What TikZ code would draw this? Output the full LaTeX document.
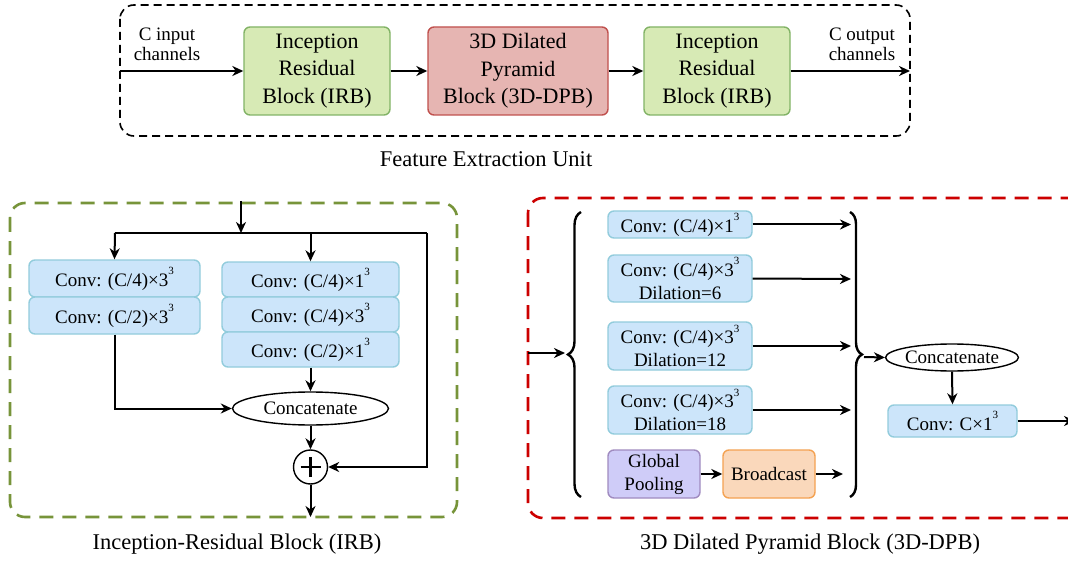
\documentclass[tikz,border=0pt]{standalone}
\usepackage{fontspec}
\setmainfont{Liberation Serif}
\newfontfamily\tms{Liberation Serif}
\usetikzlibrary{arrows.meta,decorations.pathreplacing,shapes.geometric}
\definecolor{gF}{HTML}{D7EAB5}
\definecolor{gD}{HTML}{82B366}
\definecolor{rF}{HTML}{E6B5B2}
\definecolor{rD}{HTML}{C0504D}
\definecolor{bF}{HTML}{CCE5FA}
\definecolor{bD}{HTML}{92CCDC}
\definecolor{pF}{HTML}{CFCCF8}
\definecolor{pD}{HTML}{A08BC0}
\definecolor{oF}{HTML}{FAD8BB}
\definecolor{oD}{HTML}{F4A252}
\definecolor{irbD}{HTML}{77943A}
\definecolor{dpbD}{HTML}{CC0000}
\newcommand{\supthree}{\raisebox{0.62em}{\fontsize{11}{11}\selectfont 3}}
\tikzset{
  lnk/.style={line width=2pt, draw=black},
  arr/.style={lnk, -{Stealth[length=11pt,width=10pt,inset=3.5pt]}},
  topbox/.style={rectangle, rounded corners=6pt, line width=1.4pt, inner sep=0pt,
     align=center, font=\tms\fontsize{22}{27.5}\selectfont, minimum height=88pt},
  convbox/.style={rectangle, rounded corners=6pt, line width=1.4pt, inner sep=0pt,
     align=center, fill=bF, draw=bD, font=\tms\fontsize{19}{23}\selectfont},
  ell/.style={ellipse, draw=black, line width=1.4pt, inner sep=0pt, fill=white,
     font=\tms\fontsize{19}{22}\selectfont},
  captext/.style={font=\tms\fontsize{22.5}{26}\selectfont},
  lbl/.style={align=center, font=\tms\fontsize{19}{20}\selectfont},
  bracestyle/.style={draw=black, line width=2.4pt, decorate},
}
\begin{document}
\begin{tikzpicture}[x=1pt,y=-1pt]
\useasboundingbox (0,0) rectangle (1068,564);
\clip (0,0) rectangle (1068,564);
\fill[white] (0,0) rectangle (1068,564);

% ---------- Feature Extraction Unit ----------
\draw[line width=1.6pt, dash pattern=on 8pt off 5pt, rounded corners=14pt] (120,5) rectangle (910,136);
\node[topbox, fill=gF, draw=gD, minimum width=146pt] (irbA) at (317,71) {Inception\\Residual\\Block (IRB)};
\node[topbox, fill=rF, draw=rD, minimum width=180pt] (dpbA) at (518,71) {3D Dilated\\Pyramid\\Block (3D-DPB)};
\node[topbox, fill=gF, draw=gD, minimum width=146pt] (irbB) at (717,71) {Inception\\Residual\\Block (IRB)};
\coordinate (inS) at (120,71);
\coordinate (outE) at (910,71);
\draw[arr] (inS) -- (irbA);
\draw[arr] (irbA) -- (dpbA);
\draw[arr] (dpbA) -- (irbB);
\draw[arr] (irbB) -- (outE);
\node[lbl] (cin) at (167,44) {C input\\channels};
\node[lbl] (cout) at (862,44) {C output\\channels};
\node[captext] (feu) at (486,159) {Feature Extraction Unit};

% ---------- IRB ----------
\draw[draw=irbD, line width=2.6pt, dash pattern=on 14pt off 9pt, rounded corners=15pt] (10,203) rectangle (457,517);
\coordinate (irbIn) at (241,201);
\coordinate (jL) at (115,233);
\coordinate (jM) at (310.5,233);
\coordinate (jR) at (427,233);
\coordinate (jT) at (241,233);
\node[convbox, minimum width=171pt, minimum height=37pt] (l1) at (114.5,278.5) {Conv: (C/4)×3\supthree};
\node[convbox, minimum width=171pt, minimum height=37pt] (l2) at (114.5,315.5) {Conv: (C/2)×3\supthree};
\node[convbox, minimum width=177pt, minimum height=35pt] (r1) at (310.5,279.5) {Conv: (C/4)×1\supthree};
\node[convbox, minimum width=177pt, minimum height=35pt] (r2) at (310.5,314.5) {Conv: (C/4)×3\supthree};
\node[convbox, minimum width=177pt, minimum height=35pt] (r3) at (310.5,349.5) {Conv: (C/2)×1\supthree};
\node[ell, minimum width=156pt, minimum height=33pt] (cat1) at (310.5,408.5) {Concatenate};
\node[circle, draw=black, line width=1.4pt, minimum size=34pt, inner sep=0pt] (plus) at (310.5,467) {};
\draw[line width=2.6pt] ([xshift=-10pt]plus.center) -- ([xshift=10pt]plus.center);
\draw[line width=2.6pt] ([yshift=-10pt]plus.center) -- ([yshift=10pt]plus.center);
\coordinate (irbOut) at (310.5,517);
\draw[arr] (irbIn) -- (jT);
\draw[lnk] (jL) -- (jR);
\draw[arr] (jL) -- (l1.north);
\draw[arr] (jM) -- (r1.north);
\draw[arr] (jR) |- (plus.east);
\draw[arr] (l2.south) |- (cat1.west);
\draw[arr] (r3.south) -- (cat1.north);
\draw[arr] (cat1.south) -- (plus.north);
\draw[arr] (plus.south) -- (irbOut);
\node[captext] (irbcap) at (237,544) {Inception-Residual Block (IRB)};

% ---------- 3D-DPB ----------
\draw[draw=dpbD, line width=2.6pt, dash pattern=on 14pt off 9pt, rounded corners=15pt] (528,198) rectangle (1085,518);
\coordinate (dIn) at (528,353);
\coordinate (lbTip) at (565,353);
\draw[arr] (dIn) -- (lbTip);
\draw[bracestyle, decoration={brace, amplitude=13pt}] (581,497) -- (581,212);
\node[convbox, minimum width=144pt, minimum height=27pt] (d1) at (680,224.5) {Conv: (C/4)×1\supthree};
\node[convbox, minimum width=144pt, minimum height=47pt] (d2) at (680,278.5) {Conv: (C/4)×3\supthree\\Dilation=6};
\node[convbox, minimum width=144pt, minimum height=48pt] (d3) at (680,346) {Conv: (C/4)×3\supthree\\Dilation=12};
\node[convbox, minimum width=144pt, minimum height=48pt] (d4) at (680,410) {Conv: (C/4)×3\supthree\\Dilation=18};
\node[convbox, fill=pF, draw=pD, minimum width=92pt, minimum height=48pt] (gp) at (654,474) {Global\\Pooling};
\node[convbox, fill=oF, draw=oD, minimum width=92pt, minimum height=48pt] (bc) at (769,474) {Broadcast};
\coordinate (e1) at (851,224.5);
\coordinate (e2) at (851,279);
\coordinate (e3) at (851,346);
\coordinate (e4) at (851,410);
\coordinate (e5) at (843,474);
\draw[arr] (d1.east) -- (e1);
\draw[arr] (d2.east) -- (e2);
\draw[arr] (d3.east) -- (e3);
\draw[arr] (d4.east) -- (e4);
\draw[arr] (gp) -- (bc);
\draw[arr] (bc.east) -- (e5);
\draw[bracestyle, decoration={brace, amplitude=12pt}] (850,212) -- (850,497);
\coordinate (rbTip) at (864,357);
\node[ell, minimum width=122pt, minimum height=27pt] (cat2) at (952,357.5) {Concatenate};
\node[convbox, minimum width=129pt, minimum height=32pt] (cf) at (952.5,421) {Conv: C×1\supthree};
\coordinate (dOut) at (1075,421);
\draw[arr] (rbTip) -- (cat2.west);
\draw[arr] (cat2.south) -- (cf.north);
\draw[arr] (cf.east) -- (dOut);
\node[captext] (dpbcap) at (810,544) {3D Dilated Pyramid Block (3D-DPB)};
\end{tikzpicture}
\end{document}
